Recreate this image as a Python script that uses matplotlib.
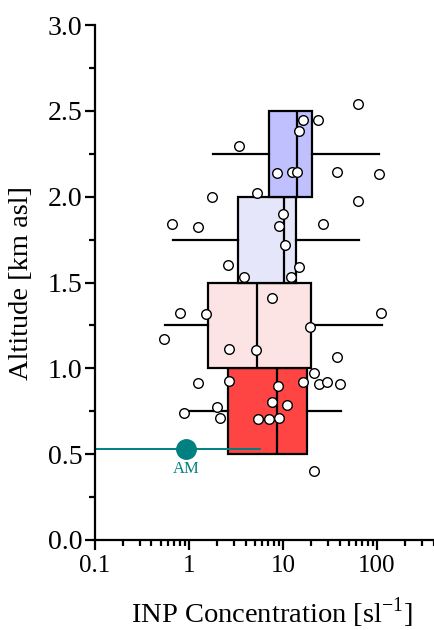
import matplotlib
matplotlib.use("Agg")
import matplotlib.pyplot as plt
from matplotlib.ticker import FixedLocator, NullFormatter, LogLocator

plt.rcParams['font.family'] = ['Liberation Serif', 'DejaVu Serif']

# Box statistics per altitude bin (km asl centre)
bin_centers = [0.75, 1.25, 1.75, 2.25]
whis_lo = [0.91, 0.56, 0.68, 1.79]
q1 = [2.62, 1.58, 3.33, 7.14]
medians = [8.56, 5.26, 10.2, 14.1]
q3 = [17.9, 19.8, 13.8, 20.3]
whis_hi = [41.9, 113, 64.7, 106]
box_colors = ['#ff4444', '#fde4e4', '#e6e6fb', '#c0c0ff']

# Individual samples (INP concentration, altitude)
pt_conc = [62, 16.4, 23.4, 14.8, 3.42, 8.69, 12.5, 14.0, 37.4, 104,
           1.75, 5.34, 62.5, 0.662, 1.24, 9.91, 9.05, 26.5, 10.5,
           2.58, 14.9, 3.90, 12.2, 7.74, 0.813, 1.52, 109, 19.2, 0.548,
           2.69, 5.17, 37.8, 21.5, 1.26, 2.67, 8.91, 16.4, 24.2, 29.7,
           40.4, 7.68, 11.0, 1.98, 2.12, 5.38, 7.19, 9.06, 0.883, 21.5]
pt_alt = [2.541, 2.450, 2.448, 2.386, 2.297, 2.141, 2.143, 2.143, 2.145, 2.132,
          1.996, 2.023, 1.978, 1.840, 1.825, 1.899, 1.827, 1.842, 1.718,
          1.600, 1.588, 1.530, 1.534, 1.409, 1.324, 1.314, 1.324, 1.243, 1.169,
          1.112, 1.107, 1.068, 0.973, 0.914, 0.924, 0.899, 0.918, 0.909, 0.920,
          0.910, 0.804, 0.788, 0.775, 0.709, 0.707, 0.707, 0.711, 0.741, 0.404]

# Ground station (AM)
am_conc = 0.93
am_alt = 0.53
am_lo = 0.05
am_hi = 5.7
am_label = 'AM'
teal = '#008080'

fig = plt.figure(figsize=(4.35, 6.3), dpi=100)
ax = fig.add_axes([0.218, 0.143, 0.79, 0.817])

stats = []
for i in range(len(bin_centers)):
    stats.append(dict(whislo=whis_lo[i], q1=q1[i], med=medians[i],
                      q3=q3[i], whishi=whis_hi[i], fliers=[]))
bp = ax.bxp(stats, positions=bin_centers, widths=0.5, vert=False,
            patch_artist=True, showcaps=False, showfliers=False,
            manage_ticks=False,
            boxprops=dict(linewidth=1.6, edgecolor='black'),
            medianprops=dict(color='black', linewidth=1.6),
            whiskerprops=dict(color='black', linewidth=1.6))
for patch, c in zip(bp['boxes'], box_colors):
    patch.set_facecolor(c)

ax.plot([am_lo, am_hi], [am_alt, am_alt], color=teal, lw=1.4, zorder=4)
ax.plot([am_conc], [am_alt], 'o', color=teal, ms=14, zorder=5)
ax.text(am_conc, am_alt - 0.07, am_label, color=teal, ha='center', va='top',
        fontsize=12)

ax.scatter(pt_conc, pt_alt, s=48, facecolor='white', edgecolor='black',
           linewidth=1.0, zorder=6)

ax.set_xscale('log')
ax.set_xlim(0.1, 450)
ax.set_ylim(0, 3.0)
ax.set_yticks([0, 0.5, 1.0, 1.5, 2.0, 2.5, 3.0])
ax.set_yticklabels(['0.0', '0.5', '1.0', '1.5', '2.0', '2.5', '3.0'])
ax.yaxis.set_minor_locator(FixedLocator([0.25, 0.75, 1.25, 1.75, 2.25, 2.75]))
ax.set_xticks([0.1, 1, 10, 100])
ax.set_xticklabels(['0.1', '1', '10', '100'])
ax.xaxis.set_minor_locator(LogLocator(base=10, subs=range(2, 10), numticks=20))
ax.xaxis.set_minor_formatter(NullFormatter())

for s in ['top', 'right']:
    ax.spines[s].set_visible(False)
for s in ['left', 'bottom']:
    ax.spines[s].set_linewidth(1.6)
ax.tick_params(which='major', direction='out', length=7, width=1.6, pad=3)
ax.tick_params(which='minor', direction='out', length=4, width=1.6)
ax.tick_params(axis='y', which='major', labelsize=20, pad=2)
ax.tick_params(axis='x', which='major', labelsize=18, pad=4)
ax.spines['left'].set_zorder(10)
ax.spines['bottom'].set_zorder(10)

ax.set_xlabel('INP Concentration [sl$^{\\mathregular{-1}}$]', fontsize=20.5)
ax.set_ylabel('Altitude [km asl]', fontsize=20.5)
ax.xaxis.label.set_va('center')
ax.yaxis.label.set_va('center')
ax.xaxis.set_label_coords((272 - 95) / (0.79 * 435), (540 - 613) / (0.817 * 630))
ax.yaxis.set_label_coords((22 - 95) / (0.79 * 435), 0.5)

fig.savefig('out.png', dpi=100)
